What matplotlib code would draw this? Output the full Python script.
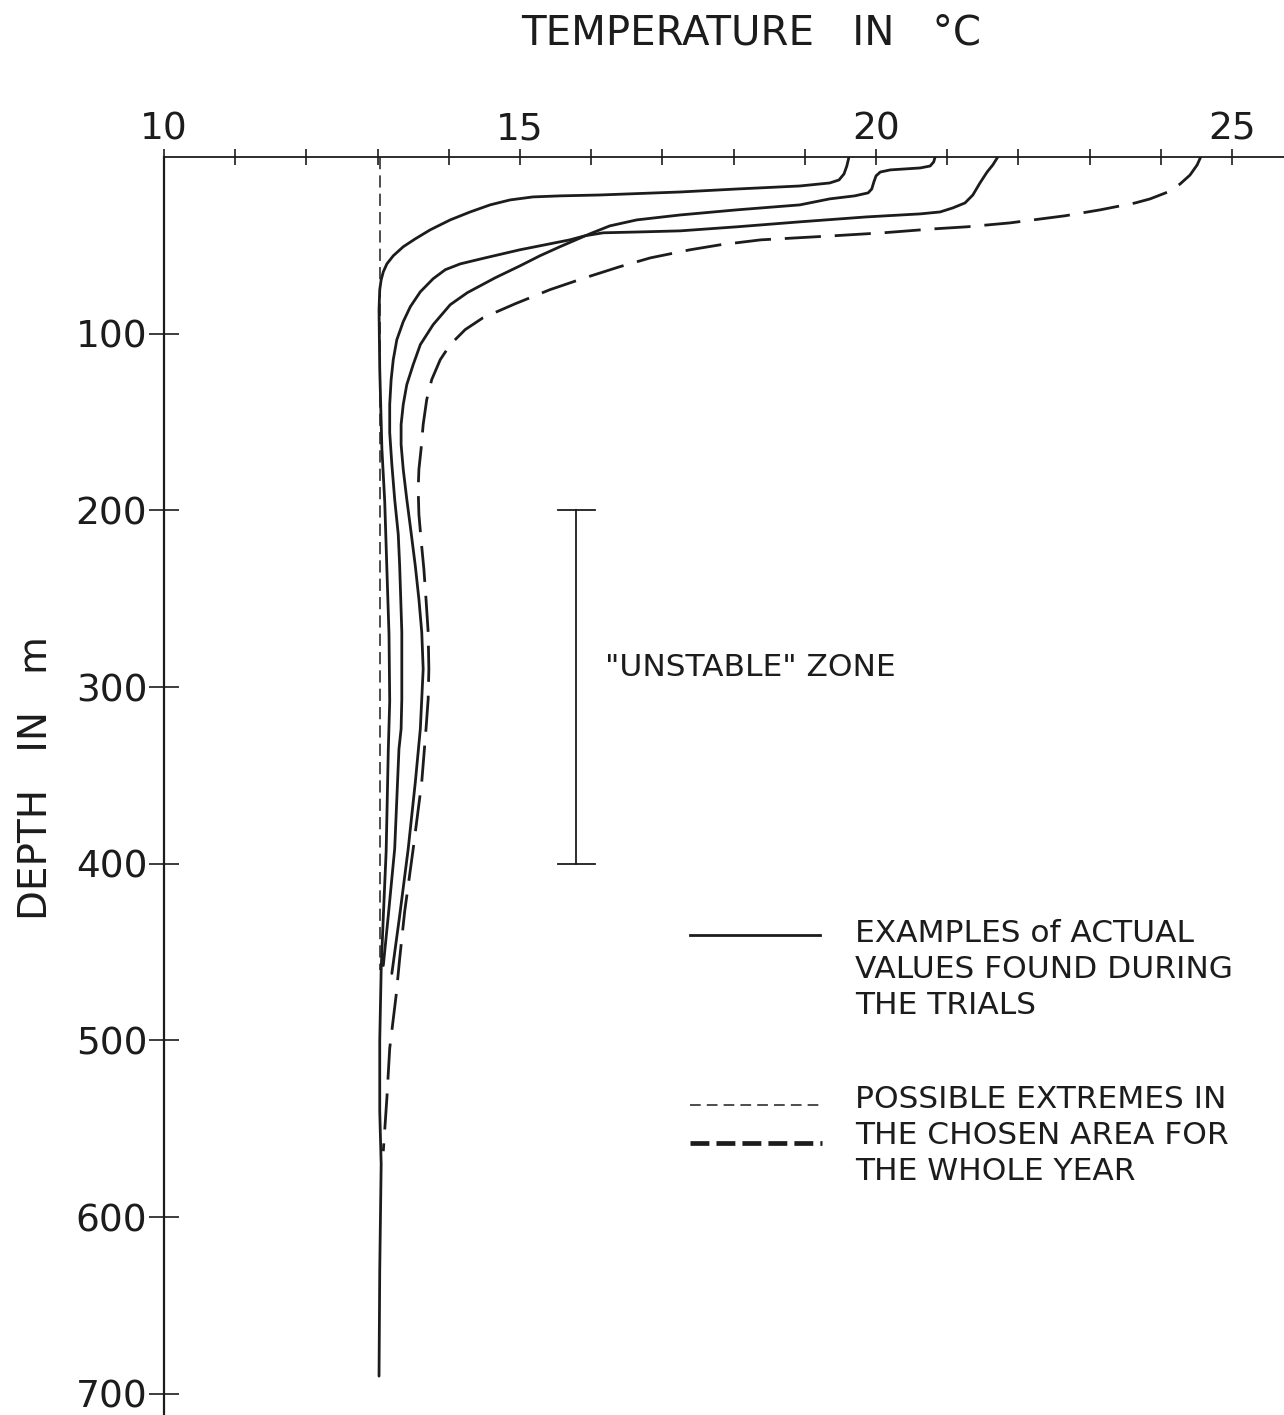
import numpy as np
import matplotlib
matplotlib.use('Agg')
import matplotlib.pyplot as plt
from matplotlib.ticker import FixedLocator, FuncFormatter

plt.rcParams['font.family'] = ['DejaVu Sans']

INK = '#1c1c1c'

# ---- data: temperature (deg C) vs depth (m) ----
# trial A (surface ~19.6 C)
a_depth = [0, 5.1, 9.6, 13.0, 14.7, 16.4, 18.1, 19.8, 21.5, 22.0, 22.6, 24.3, 27.1,
           31.1, 35.6, 41.2, 46.3, 50.8, 55.9, 60.5, 65.0, 69.5, 75.1, 86.4, 120, 165,
           195, 233, 270, 308, 336, 393, 430, 460, 500, 540, 570, 630, 690]
a_temp = [19.62, 19.59, 19.55, 19.48, 19.35, 18.93, 18.05, 17.25, 16.12, 15.56, 15.18,
          14.86, 14.58, 14.30, 14.02, 13.74, 13.53, 13.36, 13.22, 13.13, 13.08, 13.05,
          13.03, 13.02, 13.03, 13.06, 13.10, 13.13, 13.16, 13.17, 13.15, 13.12, 13.08,
          13.05, 13.03, 13.03, 13.05, 13.03, 13.02]

# trial B (surface ~20.8 C, step near 20.0)
b_depth = [0, 2.8, 5.1, 6.2, 7.3, 8.5, 10.7, 14.1, 18.1, 20.3, 22.0, 23.7, 27.1, 29.9,
           32.8, 35.6, 39.0, 43.5, 50.8, 55.9, 61.6, 68.4, 76.8, 83.6, 94.9, 106.2,
           117.5, 128.8, 140.1, 151.4, 162.7, 176.8, 193.8, 212.4, 231.6, 250.3, 268.9,
           289.8, 306.8, 323.7, 353.7, 391.5, 429.4, 462.1]
b_temp = [20.83, 20.81, 20.76, 20.62, 20.20, 20.06, 20.00, 19.97, 19.94, 19.89, 19.70,
          19.35, 18.93, 18.05, 17.25, 16.64, 16.26, 15.98, 15.56, 15.28, 15.00, 14.65,
          14.26, 14.02, 13.78, 13.60, 13.50, 13.41, 13.36, 13.33, 13.33, 13.36, 13.41,
          13.47, 13.53, 13.58, 13.62, 13.64, 13.62, 13.60, 13.53, 13.43, 13.31, 13.20]

# trial C (surface ~21.7 C)
c_depth = [0, 4.5, 8.5, 14.7, 21.5, 26.0, 28.8, 31.1, 32.2, 33.9, 36.7, 39.5, 41.8,
           42.4, 42.9, 44.6, 46.9, 49.7, 52.5, 57.1, 60.5, 63.8, 68.9, 76.3, 84.7, 93.2,
           103.4, 114.7, 126.0, 140.1, 155.9, 174.0, 193.8, 213.6, 231.6, 268.9, 306.8,
           323.7, 335.0, 391.5, 429.4, 457.6]
c_temp = [21.71, 21.64, 21.56, 21.46, 21.36, 21.25, 21.08, 20.90, 20.62, 19.87, 18.93,
          18.05, 17.25, 16.69, 16.17, 15.91, 15.70, 15.35, 15.00, 14.51, 14.16, 13.95,
          13.78, 13.60, 13.46, 13.36, 13.27, 13.22, 13.19, 13.17, 13.17, 13.20, 13.24,
          13.29, 13.31, 13.34, 13.34, 13.33, 13.30, 13.24, 13.15, 13.08]

# possible extremes: warm (thick dashed) and cold (thin dashed)
warm_depth = [0, 4.5, 10.2, 15.3, 19.8, 23.7, 26.0, 29.9, 33.3, 37.3, 39.5, 40.7, 42.9,
              44.6, 46.9, 49.7, 52.5, 57.1, 62.1, 68.4, 75.1, 83.1, 91.0, 97.7, 106.2,
              114.7, 126.0, 137.3, 151.4, 165.5, 176.8, 188.1, 202.3, 216.4, 233.3,
              250.3, 268.9, 289.8, 306.8, 323.7, 353.7, 391.5, 427.1, 453.7, 474.6,
              504.5, 532.8, 562.7]
warm_temp = [24.56, 24.51, 24.41, 24.27, 24.10, 23.85, 23.64, 23.15, 22.65, 21.88,
             21.28, 20.80, 20.10, 19.40, 18.38, 17.81, 17.39, 16.83, 16.40, 15.91,
             15.42, 14.93, 14.48, 14.23, 14.02, 13.88, 13.76, 13.69, 13.64, 13.61,
             13.58, 13.57, 13.58, 13.61, 13.65, 13.68, 13.71, 13.72, 13.71, 13.68,
             13.62, 13.50, 13.38, 13.31, 13.26, 13.17, 13.13, 13.08]
cold_depth = [0, 460]
cold_temp = [13.03, 13.03]

# "unstable" zone
zone_top, zone_bottom = 200, 400
zone_temp = 15.79

x_ticks = list(range(10, 26))
x_labels = [10, 15, 20, 25]
y_ticks = [100, 200, 300, 400, 500, 600, 700]

legend_solid = 'EXAMPLES of ACTUAL\nVALUES FOUND DURING\nTHE TRIALS'
legend_dash = 'POSSIBLE EXTREMES IN\nTHE CHOSEN AREA FOR\nTHE WHOLE YEAR'

# ---- figure ----
fig = plt.figure(figsize=(12.84, 14.15), dpi=100)
ax = fig.add_axes([164 / 1284, 0, 1120 / 1284, 1258 / 1415])

for t, d in [(a_temp, a_depth), (b_temp, b_depth), (c_temp, c_depth)]:
    ax.plot(t, d, color=INK, lw=2.0, solid_capstyle='round', solid_joinstyle='round')
ax.plot(warm_temp, warm_depth, color=INK, lw=2.0, dashes=(13, 5))
ax.plot(cold_temp, cold_depth, color=INK, lw=1.1, dashes=(8, 4))

# unstable zone bracket
ax.plot([zone_temp, zone_temp], [zone_top, zone_bottom], color=INK, lw=1.3)
for d in (zone_top, zone_bottom):
    ax.plot([zone_temp - 0.26, zone_temp + 0.26], [d, d], color=INK, lw=1.3)
ax.text(zone_temp + 0.4, (zone_top + zone_bottom) / 2 - 11, '"UNSTABLE" ZONE',
        fontsize=22.5, color=INK, va='center', ha='left')

# axes
ax.set_xlim(10, 25.73)
ax.set_ylim(712, 0)
ax.spines['right'].set_visible(False)
ax.spines['bottom'].set_visible(False)
ax.spines['top'].set_linewidth(1.3)
ax.spines['left'].set_linewidth(1.6)
ax.spines['top'].set_color(INK)
ax.spines['left'].set_color(INK)

ax.xaxis.tick_top()
ax.xaxis.set_major_locator(FixedLocator(x_ticks))
ax.xaxis.set_major_formatter(FuncFormatter(lambda v, p: f'{int(v)}' if int(v) in x_labels else ''))
ax.tick_params(axis='x', direction='inout', length=12, width=1.2, pad=1,
               labelsize=27, colors=INK)
ax.yaxis.set_major_locator(FixedLocator(y_ticks))
ax.tick_params(axis='y', direction='inout', length=22, width=1.2, pad=1,
               labelsize=27, colors=INK)

# legend drawn by hand
ax.plot([0.4696, 0.5857], [0.3816, 0.3816], transform=ax.transAxes, color=INK, lw=2.0)
ax.plot([0.4696, 0.5857], [0.2465, 0.2465], transform=ax.transAxes, color=INK,
        lw=1.1, dashes=(7, 4))
ax.plot([0.4696, 0.5875], [0.2163, 0.2163], transform=ax.transAxes, color=INK,
        lw=3.4, dashes=(4, 1.5))
ax.text(0.617, 0.3541, legend_solid, transform=ax.transAxes, fontsize=22.5, color=INK,
        va='center', ha='left', linespacing=1.3)
ax.text(0.617, 0.2224, legend_dash, transform=ax.transAxes, fontsize=22.5, color=INK,
        va='center', ha='left', linespacing=1.3)

fig.text(0.585, 0.976, 'TEMPERATURE   IN   °C', fontsize=29, color=INK,
         ha='center', va='center')
fig.text(0.028, 0.450, 'DEPTH   IN   m', fontsize=28, color=INK, rotation=90,
         ha='center', va='center')

fig.savefig('out.png', dpi=100, facecolor='white')
